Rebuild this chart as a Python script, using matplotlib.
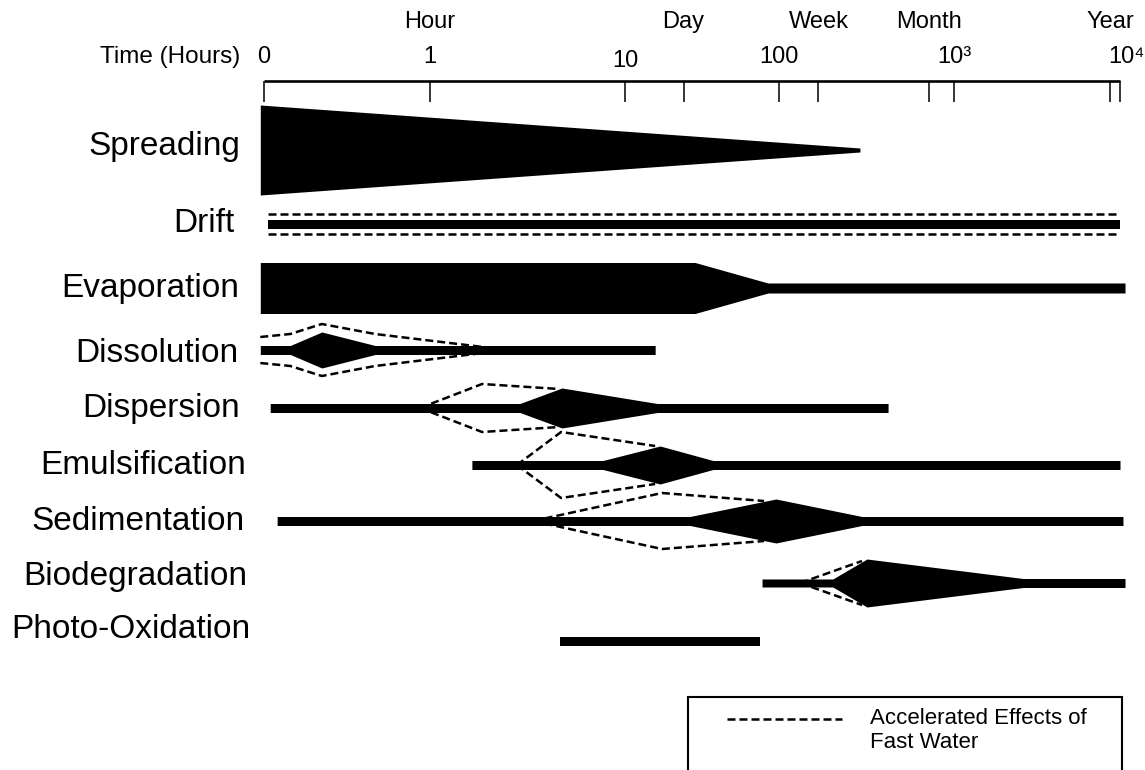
import numpy as np
import matplotlib.pyplot as plt
from matplotlib.patches import Rectangle

plt.rcParams['font.family'] = ['Liberation Sans', 'DejaVu Sans']

# time axis, in hours ("0" drawn at 0.1 h); decades are unevenly drawn in the original
axis_hours = [0.1, 1, 10, 100, 1000, 10000]
axis_labels = ['0', '1', '10', '100', '10³', '10⁴']
period_names = ['Hour', 'Day', 'Week', 'Month', 'Year']
period_hours = [1, 24, 168, 720, 8760]

processes = ['Spreading', 'Drift', 'Evaporation', 'Dissolution', 'Dispersion',
             'Emulsification', 'Sedimentation', 'Biodegradation', 'Photo-Oxidation']

# solid band: times (hours) and relative half-width at each time
spread_t = [0.095, 290]
spread_w = [45, 2]
drift_t = [0.106, 10000]
drift_w = [4.5, 4.5]
evap_t = [0.095, 28.5, 84.8, 10720]
evap_w = [25.5, 25.5, 5, 5]
dissol_t = [0.095, 0.144, 0.223, 0.467, 15.7]
dissol_w = [4.5, 4.5, 18, 4.5, 4.5]
disp_t = [0.109, 2.89, 4.75, 16.2, 420]
disp_w = [4.5, 4.5, 20, 4.5, 4.5]
emul_t = [1.64, 7.71, 16.9, 37.3, 10000]
emul_w = [4.5, 4.5, 19, 4.5, 4.5]
sed_t = [0.12, 26.4, 95.6, 298, 10420]
sed_w = [4.5, 4.5, 22, 4.5, 4.5]
bio_t = [77.6, 203, 318, 2610, 10720]
bio_w = [4, 4, 24, 4.5, 4.5]
photo_t = [4.64, 75.3]
photo_w = [4.5, 4.5]

# dashed envelope: accelerated effects of fast water
drift_fast_t = [0.106, 10000]
drift_fast_w = [10, 10]
dissol_fast_t = [0.095, 0.144, 0.223, 0.467, 1.87]
dissol_fast_w = [13, 16, 26, 16, 3]
disp_fast_t = [0.87, 1.85, 4.6]
disp_fast_w = [0, 24, 19]
emul_fast_t = [2.79, 4.70, 15.7]
emul_fast_w = [0, 33, 19]
sed_fast_t = [3.37, 17.4, 80]
sed_fast_w = [0, 28, 20]
bio_fast_t = [132, 298]
bio_fast_w = [0, 22]

bands = [(spread_t, spread_w), (drift_t, drift_w), (evap_t, evap_w),
         (dissol_t, dissol_w), (disp_t, disp_w), (emul_t, emul_w),
         (sed_t, sed_w), (bio_t, bio_w), (photo_t, photo_w)]
fast = [None, (drift_fast_t, drift_fast_w), None,
        (dissol_fast_t, dissol_fast_w), (disp_fast_t, disp_fast_w),
        (emul_fast_t, emul_fast_w), (sed_fast_t, sed_fast_w),
        (bio_fast_t, bio_fast_w), None]

# layout (figure pixels)
row_y = [150, 224, 288, 350, 408, 465, 521, 583, 641]
label_y = [147, 224, 288, 353, 408, 465, 521, 577, 630]
label_x = [240, 234, 239, 238, 240, 246, 245, 247, 250]

anchor_log = np.array([-3, -1, 0, 1, 2, 3, 4, 6])
anchor_px = np.array([-68, 264, 430, 625, 779, 954, 1120, 1452])


def fwd(h):
    h = np.asarray(h, dtype=float)
    return np.interp(np.log10(np.clip(h, 1e-3, 1e6)), anchor_log, anchor_px)


def inv(p):
    return 10 ** np.interp(np.asarray(p, dtype=float), anchor_px, anchor_log)


fig = plt.figure(figsize=(11.45, 7.7), dpi=100)
ax = fig.add_axes([0, 0, 1, 1])
ax.set_xscale('function', functions=(fwd, inv))
ax.set_xlim(inv(0), inv(1145))
ax.set_ylim(770, 0)
ax.axis('off')

# time axis
ax.plot([axis_hours[0], axis_hours[-1]], [81, 81], color='k', lw=1.9,
        solid_capstyle='butt')
tick_hours = sorted(set(axis_hours + period_hours))
ax.vlines(tick_hours, 81, 102, color='k', lw=1.1)
for h, lab in zip(axis_hours, axis_labels):
    dy = 4 if lab == '10' else 0
    dx = 1.1 if lab == '10⁴' else 1.0
    ax.text(h * dx, 57 + dy, lab, ha='center', va='center', fontsize=17)
for h, lab in zip(period_hours, period_names):
    ax.text(h, 22, lab, ha='center', va='center', fontsize=17)
ax.text(240 / 1145, 57, 'Time (Hours)', transform=ax.get_yaxis_transform(),
        ha='right', va='center', fontsize=17.5)

# process bands
for i, name in enumerate(processes):
    t, w = bands[i]
    t = np.array(t)
    w = np.array(w)
    c = row_y[i]
    ax.fill_between(t, c - w, c + w, color='k', lw=0)
    if fast[i] is not None:
        ft, fw = np.array(fast[i][0]), np.array(fast[i][1])
        for sign in (-1, 1):
            ax.plot(ft, c + sign * fw, color='k', lw=1.8, ls='--', dashes=(3.2, 1.6))
    ax.text(label_x[i] / 1145, label_y[i], name, transform=ax.get_yaxis_transform(),
            ha='right', va='center', fontsize=24)

# legend box (cut off by the bottom edge as in the original)
ax.add_patch(Rectangle((688 / 1145, -0.1), (1122 - 688) / 1145, 0.1 + 1 - 697 / 770,
                       transform=ax.transAxes, fill=False, lw=1.5, ec='k'))
ax.plot([727 / 1145, 842 / 1145], [1 - 719 / 770] * 2, transform=ax.transAxes,
        color='k', lw=1.8, ls='--', dashes=(3.2, 1.6))
ax.text(870 / 1145, 1 - 718 / 770, 'Accelerated Effects of', transform=ax.transAxes,
        ha='left', va='center', fontsize=16)
ax.text(870 / 1145, 1 - 743 / 770, 'Fast Water', transform=ax.transAxes,
        ha='left', va='center', fontsize=16)

fig.savefig('out.png', dpi=100)
